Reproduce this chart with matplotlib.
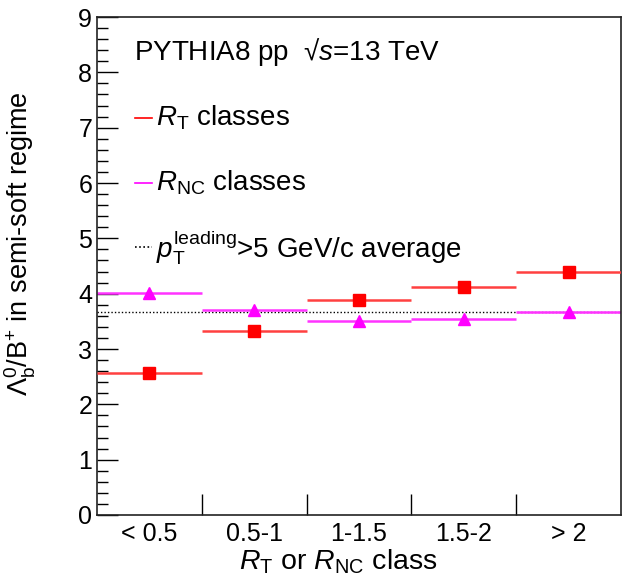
import numpy as np
import matplotlib
matplotlib.use('Agg')
import matplotlib.pyplot as plt

plt.rcParams['font.family'] = ['Liberation Sans', 'DejaVu Sans']
plt.rcParams['mathtext.fontset'] = 'custom'
plt.rcParams['mathtext.rm'] = 'Liberation Sans'
plt.rcParams['mathtext.it'] = 'Liberation Sans:italic'
plt.rcParams['mathtext.bf'] = 'Liberation Sans:bold'

# Data
classes = ['< 0.5', '0.5-1', '1-1.5', '1.5-2', '> 2']
rt_values = [2.57, 3.33, 3.89, 4.12, 4.39]
rnc_values = [4.02, 3.71, 3.51, 3.54, 3.67]
average = 3.66

x = np.arange(len(classes)) + 0.5
half = 0.5

fig = plt.figure(figsize=(6.23, 5.81), dpi=100)
ax = fig.add_axes([0.1557, 0.1136, 0.8411, 0.8571])

# average line
ax.axhline(average, color='black', linestyle=(0, (1, 1.5)), linewidth=1.0, zorder=1)

# R_NC classes
ax.errorbar(x, rnc_values, xerr=half, fmt='^', color='#ff00ff', ecolor='#ff33ff',
            markersize=8, elinewidth=1.8, capsize=0, zorder=2)
# R_T classes
ax.errorbar(x, rt_values, xerr=half, fmt='s', color='#ff0000', ecolor='#ff4040',
            markersize=9, elinewidth=1.8, capsize=0, zorder=3)

ax.set_xlim(0, 5)
ax.set_ylim(0, 9)

# ticks
ax.set_xticks(np.arange(1, 5))
ax.set_xticklabels([])
ax.set_xticks(x, minor=True)
ax.set_xticklabels(classes, minor=True, fontsize=18)
ax.tick_params(axis='x', which='major', direction='in', length=15, width=1, top=False)
ax.tick_params(axis='x', which='minor', length=0, pad=5)

ax.set_yticks(np.arange(0, 10))
ax.set_yticks(np.arange(0, 9.01, 0.2), minor=True)
ax.tick_params(axis='y', which='major', direction='in', length=15, width=1, labelsize=18, right=False)
ax.tick_params(axis='y', which='minor', direction='in', length=8, width=1, right=False)

for s in ax.spines.values():
    s.set_linewidth(1.2)
    s.set_color('#222222')

ax.set_xlabel(r'$R_{\rm T}$ or $R_{\rm NC}$ class', fontsize=20.5)
ax.xaxis.set_label_coords(0.46, -0.066)
ax.set_ylabel(r'$\Lambda_{\rm b}^{0}$/B$^{+}$ in semi-soft regime', fontsize=19.5)
ax.yaxis.set_label_coords(-0.112, 0.545)

# legend (ROOT style)
ax.text(0.070, 0.930, 'PYTHIA8 pp  √$s$=13 TeV', transform=ax.transAxes,
        fontsize=20, va='center', ha='left')
legend_rows = [
    (0.797, '#ff0000', '-', r'$R_{\rm T}$ classes'),
    (0.667, '#ff00ff', '-', r'$R_{\rm NC}$ classes'),
    (0.538, 'black', (0, (1, 1.5)), r'$p_{\rm T}^{\rm leading}$>5 GeV/c average'),
]
for yy, c, ls, lab in legend_rows:
    ax.plot([0.072, 0.105], [yy, yy], transform=ax.transAxes, color=c, linestyle=ls,
            linewidth=1.2)
    ax.text(0.112, yy, lab, transform=ax.transAxes, fontsize=20, va='center', ha='left')

fig.savefig('out.png', dpi=100)
